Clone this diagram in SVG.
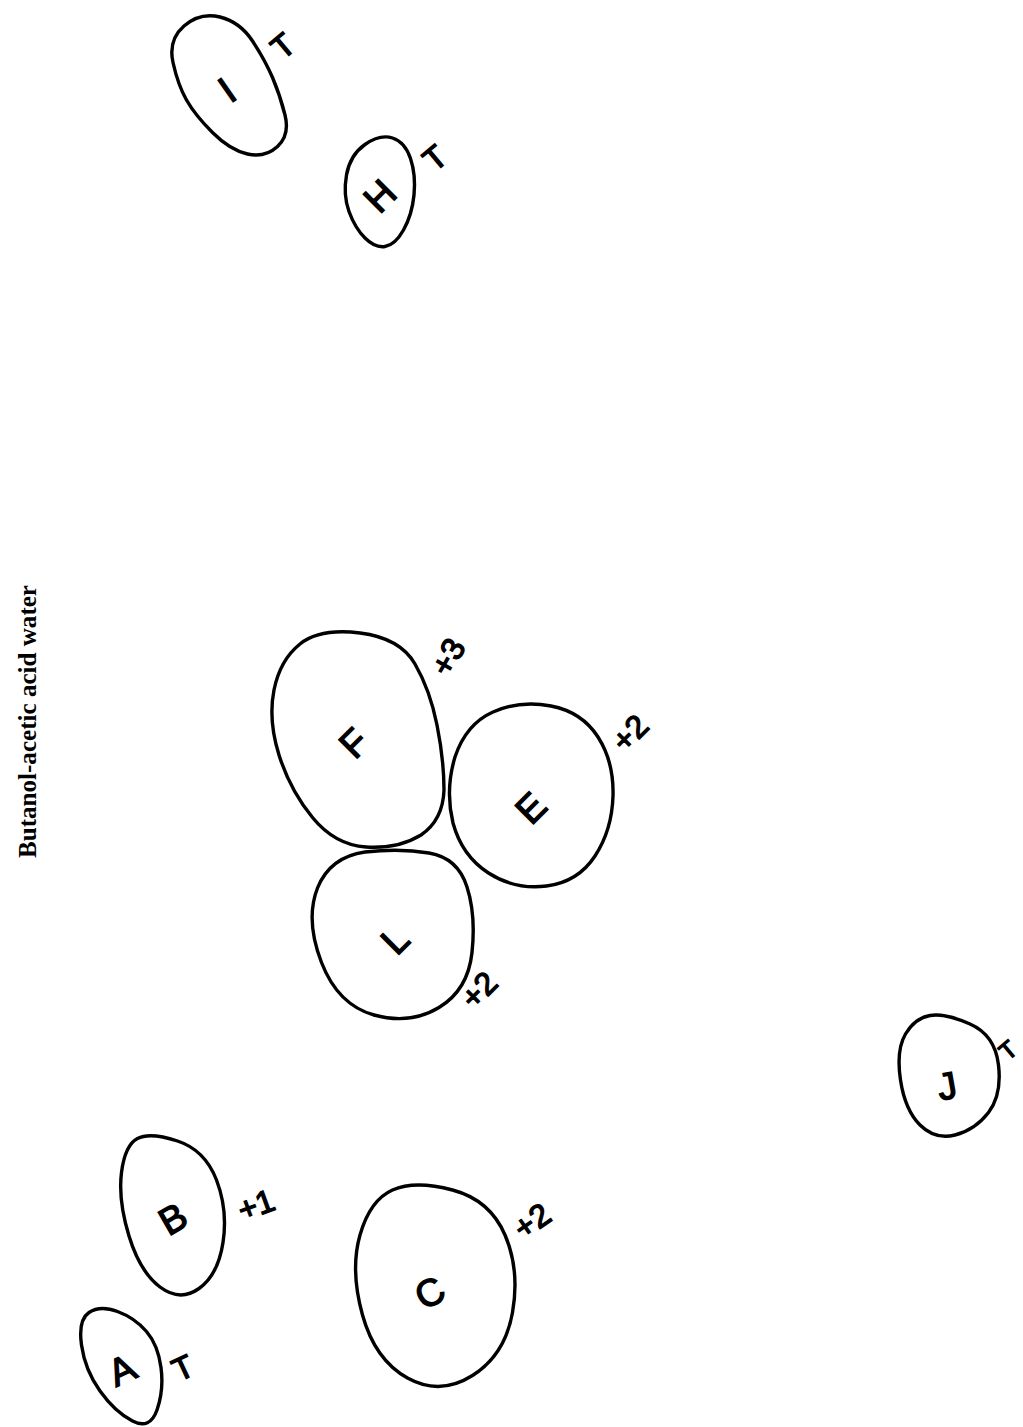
<svg xmlns="http://www.w3.org/2000/svg" width="1023" height="1427" viewBox="0 0 1023 1427">
<style>
.spot{fill:none;stroke:#000;stroke-width:3.4;stroke-linejoin:round}
.lt{font-family:"Liberation Sans","DejaVu Sans",sans-serif;font-size:38px;fill:#000;stroke:#000;stroke-width:1.4;text-anchor:middle;dominant-baseline:central}
.sm{font-size:32px}
.title{font-family:"Liberation Serif","Times New Roman",serif;font-size:26px;font-weight:bold;fill:#000;text-anchor:middle}
</style>
<rect width="1023" height="1427" fill="#fff"/>
<text class="title" transform="translate(36,721.5) rotate(-90)" textLength="273" lengthAdjust="spacingAndGlyphs">Butanol-acetic acid water</text>
<g id="spot-I">
<path class="spot" d="M220,17 Q240,22 252.5,41 Q265,60 272.5,77.5 Q280,95 285,115 Q290,135 277.5,146.5 Q265,158 247.5,154 Q230,150 212.5,132.5 Q195,115 186.5,100 Q178,85 173,62.5 Q168,40 184,26 Q200,12 220,17 Z"/>
<text class="lt" transform="translate(227,90) rotate(-35)">I</text>
<text class="lt sm" transform="translate(283,46) rotate(-40)">T</text>
</g>
<g id="spot-H">
<path class="spot" d="M392.5,138 Q405,142 410.5,158.5 Q416,175 414,195 Q412,215 403.5,230 Q395,245 385,246.5 Q375,248 365,238 Q355,228 349,211.5 Q343,195 346.5,175 Q350,155 365,144.5 Q380,134 392.5,138 Z"/>
<text class="lt" transform="translate(380,196) rotate(-45)">H</text>
<text class="lt sm" transform="translate(435,158) rotate(-40)">T</text>
</g>
<g id="spot-F">
<path class="spot" d="M360,633 Q400,638 415,664 Q430,690 437,725 Q444,760 444,790 Q443,820 421,835 Q398,849 366,847 Q335,845 312.5,817.5 Q290,790 279,755 Q268,720 274,690 Q280,660 300,644 Q320,628 360,633 Z"/>
<text class="lt" transform="translate(354,743) rotate(-45)">F</text>
<text class="lt sm" transform="translate(448,657) rotate(-60)">+3</text>
</g>
<g id="spot-E">
<path class="spot" d="M551,706 Q582,712 598,737 Q614,762 613,796 Q612,830 595,856 Q578,882 546.5,886 Q515,890 488.5,873 Q462,856 453,823 Q445,790 455,757 Q466,724 493,712 Q520,700 551,706 Z"/>
<text class="lt" transform="translate(531,808) rotate(-45)">E</text>
<text class="lt sm" transform="translate(630,733) rotate(-45)">+2</text>
</g>
<g id="spot-L">
<path class="spot" d="M429,853 Q458,858 467,887 Q476,915 472,952.5 Q468,990 439,1007.5 Q410,1025 374,1015 Q338,1005 321.5,962.5 Q305,920 317.5,888 Q330,857 365,852 Q400,848 429,853 Z"/>
<text class="lt" transform="translate(395,940) rotate(-45)">L</text>
<text class="lt sm" transform="translate(479,990) rotate(-45)">+2</text>
</g>
<g id="spot-B">
<path class="spot" d="M177.5,1141 Q205,1150 216.5,1180 Q228,1210 223,1242.5 Q218,1275 199,1288.5 Q180,1302 160,1287 Q140,1272 129,1236 Q118,1200 121.5,1172.5 Q125,1145 137.5,1138.5 Q150,1132 177.5,1141 Z"/>
<text class="lt" transform="translate(173,1219) rotate(-30)">B</text>
<text class="lt sm" transform="translate(256,1205) rotate(-20)">+1</text>
</g>
<g id="spot-A">
<path class="spot" d="M117.5,1311.5 Q135,1318 146.5,1331.5 Q158,1345 161,1367.5 Q164,1390 157,1410 Q150,1430 132.5,1421 Q115,1412 100,1391 Q85,1370 81.5,1345 Q78,1320 89,1312.5 Q100,1305 117.5,1311.5 Z"/>
<text class="lt" transform="translate(122,1370) rotate(-25)">A</text>
<text class="lt sm" transform="translate(183,1368) rotate(-25)">T</text>
</g>
<g id="spot-C">
<path class="spot" d="M452.5,1190 Q490,1200 505,1235 Q520,1270 512.5,1312.5 Q505,1355 472.5,1375.5 Q440,1396 407.5,1378 Q375,1360 362.5,1315 Q350,1270 360,1235 Q370,1200 392.5,1190 Q415,1180 452.5,1190 Z"/>
<text class="lt" transform="translate(430,1293) rotate(-30)">C</text>
<text class="lt sm" transform="translate(532,1221) rotate(-35)">+2</text>
</g>
<g id="spot-J">
<path class="spot" d="M970,1024 Q995,1035 998.5,1065 Q1002,1095 988.5,1112.5 Q975,1130 955,1135 Q935,1140 920,1125 Q905,1110 900.5,1080 Q896,1050 905.5,1034 Q915,1018 930,1015.5 Q945,1013 970,1024 Z"/>
<text class="lt" transform="translate(947,1086) rotate(-10)">J</text>
<text class="lt" style="font-size:24px" transform="translate(1008,1050) rotate(-40)">T</text>
</g>
<g id="connectors"></g>
</svg>
